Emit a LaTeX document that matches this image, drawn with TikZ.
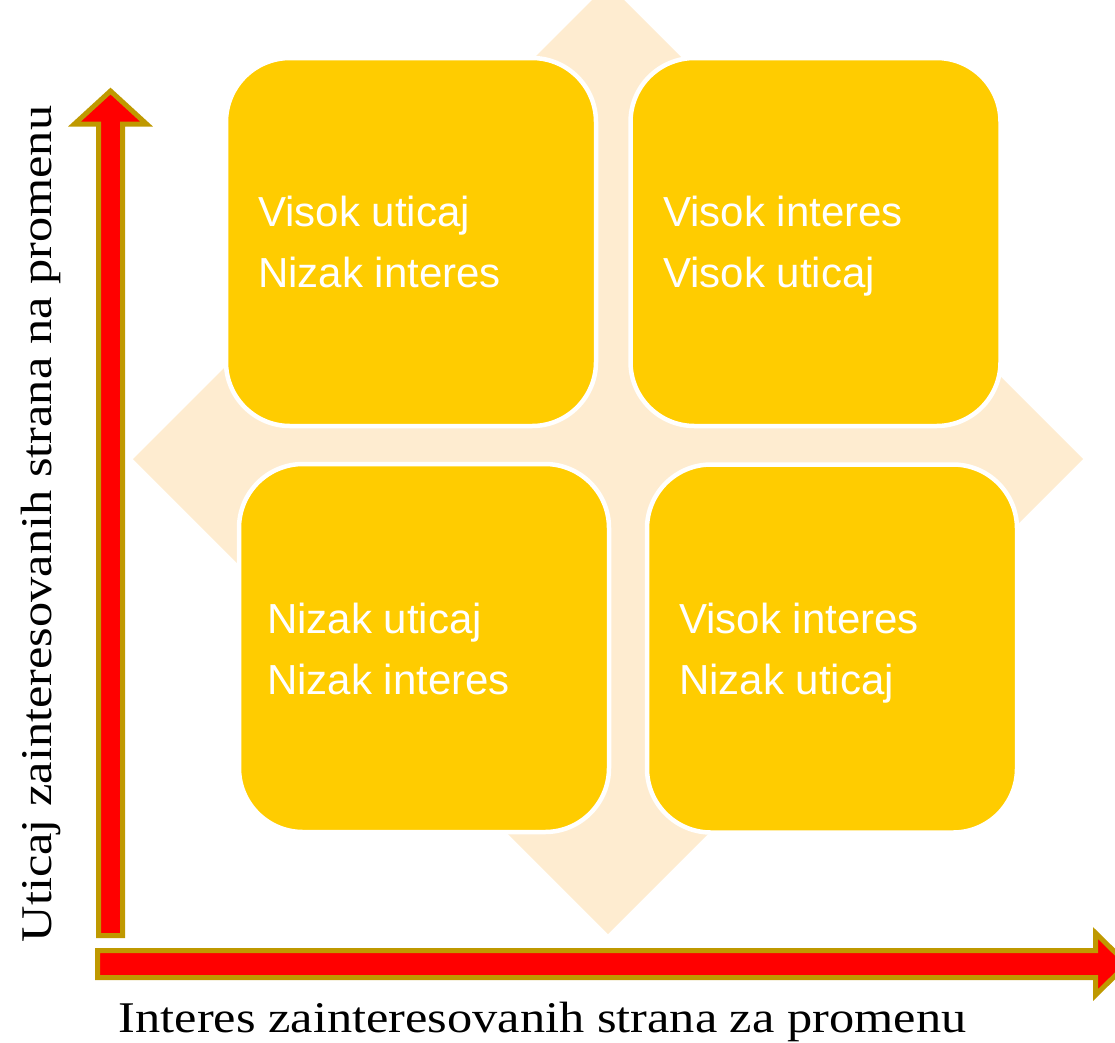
\documentclass[tikz,border=0pt]{standalone}
\usepackage{fontspec}
\setmainfont{Liberation Sans}
\newfontfamily\axisfont[FakeStretch=1.15]{Liberation Serif}
\definecolor{diamondcol}{RGB}{254,236,208}
\definecolor{boxcol}{RGB}{255,204,0}
\definecolor{arrowedge}{RGB}{191,153,0}
\definecolor{arrowfill}{RGB}{255,0,0}
\tikzset{
  quad/.style={draw=white, line width=4.5pt, fill=boxcol, rounded corners=64pt,
    minimum width=370pt, minimum height=368pt, inner sep=0pt},
  quadtext/.style={anchor=west, align=left, inner sep=0pt, text=white,
    font=\fontsize{42pt}{61pt}\selectfont},
  bigarrow/.style={draw=arrowedge, fill=arrowfill, line width=5pt, line join=miter},
  axislabel/.style={anchor=base, inner sep=0pt, font=\axisfont\fontsize{43.8pt}{50pt}\selectfont}
}
\begin{document}
\begin{tikzpicture}[x=1pt,y=-1pt]
\useasboundingbox (0,0) rectangle (1115,1042);
\clip (0,0) rectangle (1115,1042);
% background diamond
\fill[diamondcol] (608,-16) -- (1083,459) -- (608,934) -- (133,459) -- cycle;
% quadrants
\node[quad] (tl) at (411,242) {};
\node[quad] (tr) at (815.5,242) {};
\node[quad] (bl) at (424,648) {};
\node[quad] (br) at (832,648.5) {};
\node[quadtext] (tltext) at (258,242) {Visok uticaj\\Nizak interes};
\node[quadtext] (trtext) at (663,246) {Visok interes\\Visok uticaj};
\node[quadtext] (bltext) at (267,649) {Nizak uticaj\\Nizak interes};
\node[quadtext] (brtext) at (679,653) {Visok interes\\Nizak uticaj};
% axes arrows
\draw[bigarrow] (98.5,935.5) -- (98.5,124) -- (74.5,124) -- (110.5,91) -- (146.5,124) -- (122.5,124) -- (122.5,935.5) -- cycle;
\draw[bigarrow] (97.5,950.5) -- (1095.5,950.5) -- (1095.5,933) -- (1127,964) -- (1095.5,995) -- (1095.5,977.5) -- (97.5,977.5) -- cycle;
% axis labels
\node[axislabel] (xlabel) at (542.5,1032) {Interes zainteresovanih strana za promenu};
\node[axislabel, rotate=90] (ylabel) at (51,524) {Uticaj zainteresovanih strana na promenu};
\end{tikzpicture}
\end{document}
